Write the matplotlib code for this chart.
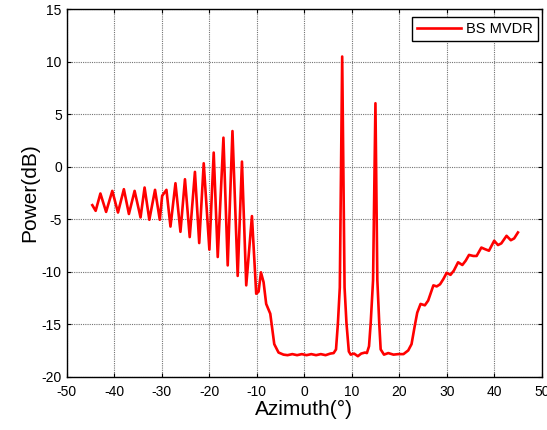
import numpy as np
import matplotlib
matplotlib.use("Agg")
import matplotlib.pyplot as plt

plt.rcParams['font.family'] = ['Liberation Sans', 'DejaVu Sans']

# Beamspace MVDR spatial spectrum (azimuth in degrees, power in dB)
azimuth = [
    -44.6, -43.9, -42.9, -41.7, -40.4, -39.2, -37.96, -36.9, -35.7, -34.45,
    -33.6, -32.6, -31.4, -30.4, -29.9, -29.0, -28.15, -27.1, -26.05, -25.1,
    -24.1, -23.0, -22.1, -21.15, -19.96, -19.05, -18.2, -17.0, -16.1, -15.1,
    -14.0, -13.1, -12.2, -11.0, -10.1, -9.6, -9.1, -8.55, -8.0, -7.14,
    -6.3, -5.4, -4.35, -3.5, -2.5, -1.5, -0.5, 0.5, 1.5, 2.5,
    3.5, 4.5, 5.5, 6.2, 6.7, 7.1, 7.5, 8.0, 8.5, 8.9,
    9.4, 9.8, 10.5, 11.3, 12.0, 12.8, 13.2, 13.65, 14.0, 14.5,
    15.0, 15.4, 15.8, 16.1, 16.8, 17.7, 18.8, 19.8, 20.9, 21.9,
    22.6, 23.3, 23.8, 24.5, 25.4, 26.1, 27.2, 27.9, 28.6, 29.3,
    30.0, 30.8, 31.5, 32.4, 33.3, 34.0, 34.7, 35.6, 36.3, 37.3,
    38.0, 38.9, 40.0, 40.8, 41.5, 42.6, 43.5, 44.2, 45.0,
]
power_db = [
    -3.66, -4.2, -2.55, -4.3, -2.3, -4.36, -2.14, -4.5, -2.3, -4.83,
    -1.98, -5.05, -2.2, -5.05, -2.77, -2.2, -5.7, -1.57, -6.2, -1.19,
    -6.7, -0.49, -7.27, 0.33, -7.9, 1.35, -8.6, 2.77, -9.4, 3.4,
    -10.4, 0.49, -11.3, -4.7, -12.1, -11.9, -10.06, -11.0, -13.07, -14.0,
    -16.9, -17.7, -17.9, -17.95, -17.85, -17.95, -17.85, -17.95, -17.85, -17.95,
    -17.85, -17.95, -17.8, -17.75, -17.4, -14.9, -11.5, 10.5, -11.5, -14.9,
    -17.6, -17.9, -17.8, -18.05, -17.8, -17.7, -17.75, -17.1, -14.9, -10.8,
    6.05, -10.8, -14.9, -17.4, -17.9, -17.75, -17.9, -17.85, -17.85, -17.5,
    -16.9, -15.1, -13.9, -13.07, -13.2, -12.75, -11.3, -11.4, -11.2, -10.7,
    -10.1, -10.3, -9.9, -9.1, -9.36, -8.95, -8.4, -8.5, -8.5, -7.7,
    -7.84, -8.0, -7.05, -7.46, -7.3, -6.58, -7.0, -6.83, -6.26,
]

xticks = np.arange(-50, 51, 10)
yticks = np.arange(-20, 16, 5)

fig = plt.figure(figsize=(5.47, 4.30), dpi=100)
ax = fig.add_axes([0.1219, 0.1240, 0.8684, 0.8544])

ax.plot(azimuth, power_db, color='#ff0000', linewidth=1.9, label='BS MVDR')

ax.set_xlim(-50, 50)
ax.set_ylim(-20, 15)
ax.set_xticks(xticks)
ax.set_yticks(yticks)
ax.set_xticklabels([str(v) for v in xticks])
ax.set_yticklabels([str(v) for v in yticks])
ax.tick_params(direction='in', top=True, right=True, length=3, width=0.8,
               labelsize=10, colors='k')
ax.tick_params(axis='x', pad=6)
ax.grid(True, color='0.45', linestyle=(0, (1, 1)), linewidth=0.8)
for s in ax.spines.values():
    s.set_linewidth(1.0)
    s.set_color('k')

ax.set_xlabel('Azimuth(°)', fontsize=15, labelpad=1)
ax.set_ylabel('Power(dB)', fontsize=15, labelpad=2)

leg = ax.legend(loc='upper right', bbox_to_anchor=(0.9928, 0.9799),
                borderaxespad=0, fontsize=10.5, handlelength=3.0,
                handletextpad=0.35, borderpad=0.35, fancybox=False,
                framealpha=1)
leg.get_frame().set_edgecolor('k')
leg.get_frame().set_linewidth(1.0)

fig.savefig('out.png', dpi=100)
